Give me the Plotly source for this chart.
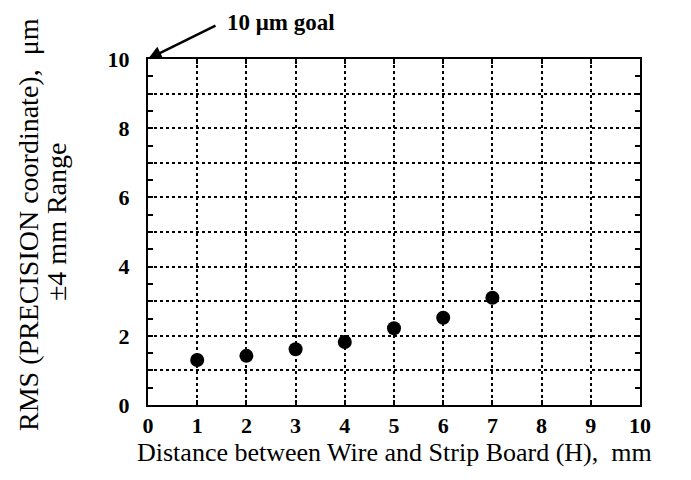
import plotly.graph_objects as go

distance_mm = [1, 2, 3, 4, 5, 6, 7]
rms_um = [1.30, 1.42, 1.61, 1.82, 2.22, 2.52, 3.10]

x_ticks = list(range(0, 11))
y_ticks = list(range(0, 11))
y_ticktext = [str(v) if v % 2 == 0 else "" for v in y_ticks]

FONT = "Liberation Serif"
NB = "\u00a0"

# page body has an 8px default margin; plot area sits at x 148-640, y 59-405 on the page
W, H = 683, 472
L, T, R, B = 140, 51, 51, 75
PW, PH = W - L - R, H - T - B


def px(xp):
    return (xp - 8 - L) / PW


def py(yp):
    return (T + PH - (yp - 8)) / PH


fig = go.Figure()
fig.add_trace(go.Scatter(
    x=distance_mm, y=rms_um, mode="markers",
    marker=dict(color="black", size=14),
    showlegend=False, hoverinfo="skip",
))

axis_common = dict(
    showline=True, linecolor="black", linewidth=2, mirror="allticks",
    showgrid=True, gridcolor="black", gridwidth=1.6, griddash="dot",
    zeroline=False, ticks="inside", ticklen=5, tickwidth=2, tickcolor="black",
    tickfont=dict(family=FONT, size=22, color="black", weight="bold"),
    fixedrange=True,
)

fig.update_xaxes(range=[0, 10], tickvals=x_ticks, ticktext=[str(v) for v in x_ticks],
                 ticklabelstandoff=0, **axis_common)
fig.update_yaxes(range=[0, 10], tickvals=y_ticks, ticktext=y_ticktext,
                 ticklabelstandoff=12,
                 minor=dict(dtick=0.5, ticks="inside", ticklen=5, tickwidth=2,
                            tickcolor="black", showgrid=False),
                 **axis_common)

fig.add_annotation(
    x=0, y=10, xref="x", yref="y", text="",
    showarrow=True, arrowhead=2, arrowsize=1.1, arrowwidth=2.5, arrowcolor="black",
    ax=69, ay=-34, standoff=0,
)
fig.add_annotation(
    x=px(225), y=py(8), xref="paper", yref="paper",
    text="<b>10 μm goal</b>", showarrow=False, xanchor="left", yanchor="top",
    font=dict(family=FONT, size=23, color="black"),
)
fig.add_annotation(
    x=px(394), y=py(452), xref="paper", yref="paper",
    text="Distance between Wire and Strip Board (H)," + NB + " mm", showarrow=False,
    xanchor="center", yanchor="middle",
    font=dict(family=FONT, size=26, color="black"),
)
fig.add_annotation(
    x=px(28), y=py(225), xref="paper", yref="paper",
    text="RMS (PRECISION coordinate)," + NB + " μm", showarrow=False,
    textangle=-90, xanchor="center", yanchor="middle",
    font=dict(family=FONT, size=28, color="black"),
)
fig.add_annotation(
    x=px(56), y=py(222), xref="paper", yref="paper",
    text="±4 mm Range", showarrow=False,
    textangle=-90, xanchor="center", yanchor="middle",
    font=dict(family=FONT, size=28, color="black"),
)

fig.update_layout(
    width=W, height=H,
    margin=dict(l=L, r=R, t=T, b=B),
    plot_bgcolor="white", paper_bgcolor="white",
    font=dict(family=FONT, color="black"),
)

fig.write_html("out.html")
